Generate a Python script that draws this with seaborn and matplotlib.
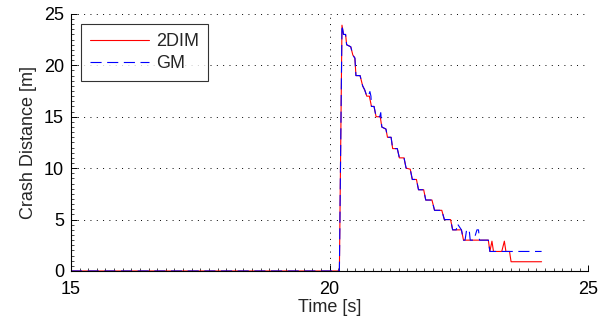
import pandas as pd
import matplotlib
matplotlib.use('Agg')
import matplotlib.pyplot as plt
import seaborn as sns
from matplotlib.ticker import MultipleLocator

# 2DIM crash distance
t_2dim = [15.0, 20.19, 20.24, 20.27, 20.31, 20.33, 20.41, 20.45, 20.49, 20.51,
          20.59, 20.64, 20.68, 20.72, 20.77, 20.81, 20.86, 20.90, 20.98, 21.01,
          21.09, 21.12, 21.19, 21.22, 21.31, 21.35, 21.44, 21.48, 21.56, 21.60,
          21.68, 21.72, 21.82, 21.86, 21.98, 22.03, 22.17, 22.22, 22.34, 22.38,
          22.55, 22.59, 23.07, 23.10, 23.14, 23.17, 23.33, 23.38, 23.41, 23.48,
          23.51, 24.10]
d_2dim = [0.0, 0.0, 23.9, 23.0, 23.0, 22.0, 21.8, 21.0, 20.7, 19.0,
          19.0, 18.0, 17.6, 17.0, 17.0, 16.0, 16.0, 15.0, 15.0, 14.0,
          13.8, 13.0, 13.0, 11.9, 11.9, 11.0, 11.0, 10.0, 9.9, 8.9,
          8.9, 7.9, 7.9, 6.9, 6.9, 5.9, 5.9, 5.0, 5.0, 4.0,
          4.0, 3.0, 3.0, 1.9, 2.9, 1.9, 1.9, 2.9, 1.9, 1.9,
          0.9, 0.9]

# GM crash distance
t_gm = [15.0, 20.19, 20.24, 20.27, 20.31, 20.33, 20.41, 20.45, 20.49, 20.51,
        20.59, 20.64, 20.68, 20.72, 20.75, 20.78, 20.80, 20.81, 20.86, 20.90,
        20.97, 20.99, 21.01, 21.09, 21.12, 21.19, 21.22, 21.31, 21.35, 21.44,
        21.48, 21.56, 21.60, 21.68, 21.72, 21.82, 21.86, 21.98, 22.03, 22.17,
        22.22, 22.34, 22.38, 22.45, 22.47, 22.55, 22.59, 22.62, 22.65, 22.70,
        22.72, 22.79, 22.85, 22.88, 22.90, 23.07, 23.10, 24.10]
d_gm = [0.0, 0.0, 23.9, 23.0, 23.0, 22.0, 21.8, 21.0, 20.7, 19.0,
        19.0, 18.0, 17.6, 17.0, 17.0, 17.45, 17.0, 16.0, 16.0, 15.0,
        15.0, 15.4, 14.0, 13.8, 13.0, 13.0, 11.9, 11.9, 11.0, 11.0,
        10.0, 9.9, 8.9, 8.9, 7.9, 7.9, 6.9, 6.9, 5.9, 5.9,
        5.0, 5.0, 4.0, 4.0, 4.6, 4.0, 3.0, 3.0, 4.0, 4.0,
        3.0, 3.0, 4.0, 4.0, 3.0, 3.0, 1.9, 1.9]

sns.set_style('ticks')
plt.rcParams['font.family'] = ['Liberation Sans', 'DejaVu Sans']

df_2dim = pd.DataFrame({'t': t_2dim, 'd': d_2dim})
df_gm = pd.DataFrame({'t': t_gm, 'd': d_gm})

fig = plt.figure(figsize=(6.12, 3.23), dpi=100)
ax = fig.add_axes([0.116, 0.161, 0.845, 0.796])

sns.lineplot(data=df_2dim, x='t', y='d', ax=ax, estimator=None, sort=False,
             color='red', linewidth=0.8, label='2DIM')
sns.lineplot(data=df_gm, x='t', y='d', ax=ax, estimator=None, sort=False,
             color='blue', linewidth=0.8, label='GM', dashes=False)
ax.lines[1].set_dashes((10, 5))

ax.set_xlim(15, 25)
ax.set_ylim(0, 25)
ax.xaxis.set_major_locator(MultipleLocator(5))
ax.yaxis.set_major_locator(MultipleLocator(5))
ax.xaxis.set_minor_locator(MultipleLocator(1 / 6))
ax.yaxis.set_minor_locator(MultipleLocator(0.5))
ax.tick_params(which='both', direction='in', labelsize=13, colors='black')
ax.tick_params(axis='x', which='major', pad=7)
ax.tick_params(axis='y', which='major', pad=5)
ax.tick_params(which='major', length=4, width=0.7)
ax.tick_params(which='minor', length=2, width=0.5)

ax.grid(True, which='major', color='black', linewidth=0.7, linestyle=(0, (1, 5.5)))
ax.set_axisbelow(True)
sns.despine(ax=ax)
for s in ['left', 'bottom']:
    ax.spines[s].set_linewidth(0.8)
    ax.spines[s].set_color('black')

ax.set_xlabel('Time [s]', fontsize=13, labelpad=1)
ax.set_ylabel('Crash Distance [m]', fontsize=13, labelpad=5)

leg = ax.legend(loc='upper left', bbox_to_anchor=(0.019, 0.961), borderaxespad=0,
                fancybox=False, frameon=True, fontsize=13, handlelength=3.3,
                handletextpad=0.35, borderpad=0.5, labelspacing=0.3)
leg.get_frame().set_edgecolor('black')
leg.get_frame().set_linewidth(0.8)

fig.savefig('out.png', dpi=100)
